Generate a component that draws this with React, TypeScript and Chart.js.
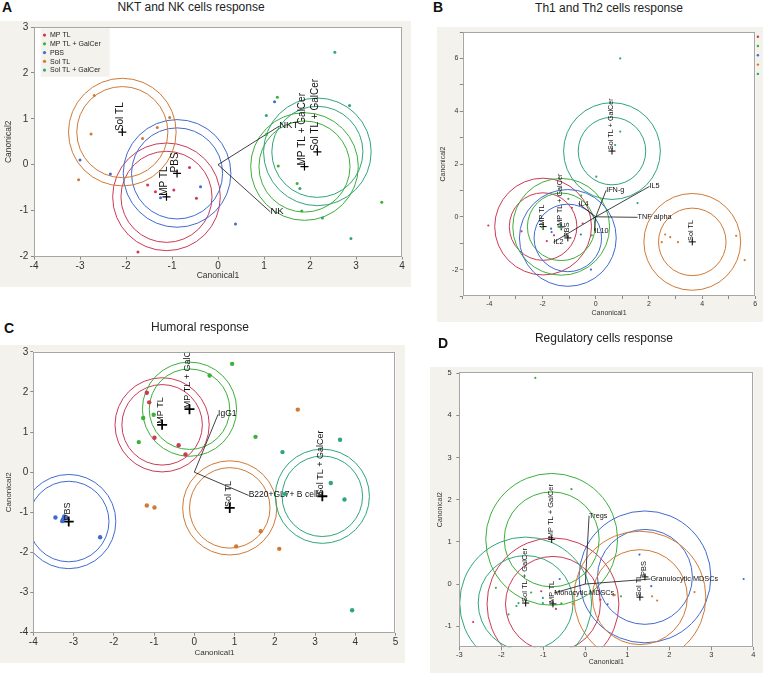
import React, { useEffect, useRef } from "react";
import { Chart, registerables } from "chart.js";
Chart.register(...registerables);

const FONT = '"Liberation Sans", Arial, Helvetica, sans-serif';
const BEIGE = "#f4f2ec";

const GROUPS = ["MP TL", "MP TL + GalCer", "PBS", "Sol TL", "Sol TL + GalCer"];
const COLORS = ["#cc3a55", "#3daf3a", "#3f6bd0", "#d07a35", "#2fa678"];

// ---------- Panel A: NKT and NK cells response ----------
const A_MP_TL = [[-0.62, -0.06], [-1.53, -0.44], [-1.36, -0.59], [-0.96, -0.55], [-0.47, -0.73], [-1.74, -1.9]];
const A_MP_TL_GAL = [[1.29, 1.47], [1.31, -0.03], [1.72, -0.41], [1.82, -1.01], [3.56, -0.82], [1.05, 0.66]];
const A_PBS = [[1.23, 1.37], [-3.0, 0.1], [-2.34, -0.2], [-0.38, -0.48], [-1.25, -0.72], [0.38, -1.29]];
const A_SOL_TL = [[-2.69, 1.51], [-1.05, 1.03], [-1.32, 0.81], [-2.76, 0.67], [-1.64, 0.57], [-3.03, -0.33]];
const A_SOL_TL_GAL = [[2.54, 2.45], [1.05, 1.07], [2.86, 1.29], [1.78, -0.52], [2.27, -1.16], [2.89, -1.61]];
const A_CENTERS = [[-1.12, -0.7], [1.88, -0.04], [-0.89, -0.19], [-2.08, 0.71], [2.16, 0.28]];
const A_RADII = [1.17, 0.99];
const A_RAY_NAMES = ["NKT", "NK"];
const A_RAY_ENDS = [[1.33, 0.84], [1.14, -1.03]];

// ---------- Panel B: Th1 and Th2 cells response ----------
const B_MP_TL = [[-4.04, -0.33], [-2.79, -0.55], [-0.9, 0.34], [-0.49, -0.26], [-1.57, -0.7], [-1.84, -0.92]];
const B_MP_TL_GAL = [[-1.03, 0.68], [-0.55, 0.8], [-0.15, -0.7], [-1.37, -0.39], [-1.28, -0.41], [-2.03, -0.39]];
const B_PBS = [[-0.56, -0.67], [-0.18, -2.0], [-1.68, -0.45], [-1.66, -0.58], [-1.3, -0.33]];
const B_SOL_TL = [[2.61, -0.67], [2.48, -0.96], [2.8, -0.77], [3.09, -0.96], [5.28, -0.72], [5.6, -1.64]];
const B_SOL_TL_GAL = [[0.92, 6.0], [0.92, 3.23], [0.73, 2.72], [0.02, 1.52], [1.57, 0.52]];
const B_CENTERS = [[-1.98, -0.37], [-1.3, -0.38], [-1.05, -0.8], [3.63, -0.95], [0.61, 2.49]];
const B_RADII = [1.82, 1.27];
const B_RAY_NAMES = ["IFN-g", "IL5", "TNF alpha", "IL4", "IL10", "IL2"];
const B_RAY_ENDS = [[0.39, 1.0], [2.02, 1.15], [1.57, -0.02], [-0.65, 0.5], [-0.05, -0.53], [-1.59, -0.96]];

// ---------- Panel C: Humoral response ----------
const C_MP_TL = [[-1.18, 1.98], [-1.12, 1.74], [-0.99, 0.86], [-0.39, 0.67], [-0.22, 0.44]];
const C_MP_TL_GAL = [[0.94, 2.7], [0.38, 2.41], [-1.27, 1.35], [-1.01, 1.43], [-1.38, 0.75], [1.52, 0.88]];
const C_PBS = [[-3.45, -1.13], [-3.26, -1.17], [-3.23, -1.1], [-3.28, -1.22], [-3.2, -1.15], [-2.34, -1.62]];
const C_SOL_TL = [[2.57, 1.56], [-1.18, -0.83], [-0.99, -0.88], [1.65, -1.47], [1.04, -1.85], [2.11, -1.91]];
const C_SOL_TL_GAL = [[2.19, 0.5], [3.62, 0.81], [3.39, -0.27], [3.73, -0.68], [3.92, -3.44], [2.25, -0.54]];
const C_CENTERS = [[-0.8, 1.18], [-0.12, 1.57], [-3.12, -1.23], [0.88, -0.89], [3.18, -0.6]];
const C_RADII = [1.17, 1.0];
const C_RAY_NAMES = ["IgG1", "B220+GL7+ B cells"];
const C_RAY_ENDS = [[0.59, 1.44], [1.35, -0.58]];

// ---------- Panel D: Regulatory cells response ----------
const D_MP_TL = [[-2.67, -0.9], [-1.05, -0.17], [-0.7, -0.59], [0.36, -0.37]];
const D_MP_TL_GAL = [[-1.19, 4.89], [-0.33, 2.25], [-2.13, -0.09], [-1.29, -0.2], [-0.57, -0.46], [0.85, -0.29]];
const D_PBS = [[-0.61, 0.12], [1.29, 0.7], [1.57, -0.05], [3.77, 0.12], [0.53, -0.48]];
const D_SOL_TL = [[-0.3, -0.47], [0.67, -0.27], [0.7, -0.26], [1.59, -0.29], [1.71, -0.39], [2.6, -0.19]];
const D_SOL_TL_GAL = [[-1.01, -0.33], [-1.01, -0.45], [-1.64, -0.52], [-1.59, -0.45], [-1.83, -0.72]];
const D_CENTERS = [[-0.77, -0.47], [-0.8, 1.06], [1.42, 0.17], [1.3, -0.31], [-1.42, -0.45]];
const D_RADII = [1.57, 1.13];
const D_RAY_NAMES = ["Tregs", "Granulocytic MDSCs", "Monocytic MDSCs"];
const D_RAY_ENDS = [[0.09, 1.62], [1.55, 0.12], [-0.74, -0.21]];

type Spec = any;

const SPEC_A: Spec = {
  l: 0, t: 21, w: 411, h: 266, cl: 34, ct: 27, cr: 402, cb: 256.5,
  xMin: -4, xMax: 4, yMin: -2, yMax: 3, xEvery: 1, yEvery: 1,
  tickSize: 10, xTickPad: 1, yTickPad: 2.7, axisTitleSize: 8.5, xTitlePad: 5.9, yTitlePad: 3.2,
  groupSize: 10, raySize: 9.5, pointR: 1.5, crossR: 4, crossW: 1.2, legend: "box",
  groups: [A_MP_TL, A_MP_TL_GAL, A_PBS, A_SOL_TL, A_SOL_TL_GAL],
  centers: A_CENTERS, radii: A_RADII, rayNames: A_RAY_NAMES, rayEnds: A_RAY_ENDS,
};
const SPEC_B: Spec = {
  l: 437, t: 27, w: 326, h: 295, cl: 462.8, ct: 31, cr: 755.3, cb: 296,
  xMin: -5, xMax: 6, yMin: -3, yMax: 7, xEvery: 2, yEvery: 2,
  tickSize: 7, xTickPad: 1, yTickPad: 1.5, axisTitleSize: 7, xTitlePad: 5.1, yTitlePad: 1.8,
  groupSize: 7.2, raySize: 7.3, pointR: 1.1, crossR: 3.5, crossW: 1, legend: "edge",
  groups: [B_MP_TL, B_MP_TL_GAL, B_PBS, B_SOL_TL, B_SOL_TL_GAL],
  centers: B_CENTERS, radii: B_RADII, rayNames: B_RAY_NAMES, rayEnds: B_RAY_ENDS,
};
const SPEC_C: Spec = {
  l: 0, t: 345, w: 405, h: 318, cl: 33.3, ct: 350.7, cr: 395.6, cb: 632.7,
  xMin: -4, xMax: 5, yMin: -4, yMax: 3, xEvery: 1, yEvery: 1,
  tickSize: 10, xTickPad: 1, yTickPad: 2, axisTitleSize: 8, xTitlePad: 5.5, yTitlePad: 3.5,
  groupSize: 9, raySize: 8.5, pointR: 2.2, crossR: 5, crossW: 1.8, legend: null,
  groups: [C_MP_TL, C_MP_TL_GAL, C_PBS, C_SOL_TL, C_SOL_TL_GAL],
  centers: C_CENTERS, radii: C_RADII, rayNames: C_RAY_NAMES, rayEnds: C_RAY_ENDS,
};
const SPEC_D: Spec = {
  l: 430, t: 367, w: 333, h: 306, cl: 459.3, ct: 371, cr: 753.3, cb: 647.3,
  xMin: -3, xMax: 4, yMin: -1.5, yMax: 5.03, xEvery: 1, yEvery: 1,
  tickSize: 7.5, xTickPad: 0.5, yTickPad: 4.6, axisTitleSize: 7, xTitlePad: 7.1, yTitlePad: 5.8,
  groupSize: 7.5, raySize: 7.3, pointR: 1.1, crossR: 3.5, crossW: 1, legend: null,
  groups: [D_MP_TL, D_MP_TL_GAL, D_PBS, D_SOL_TL, D_SOL_TL_GAL],
  centers: D_CENTERS, radii: D_RADII, rayNames: D_RAY_NAMES, rayEnds: D_RAY_ENDS,
};

const f = (n: number) => `${n}px ${FONT}`;
const isInt = (v: number) => Math.abs(v - Math.round(v)) < 1e-6;

function Panel({ s }: { s: Spec }) {
  const ref = useRef<HTMLCanvasElement>(null);
  useEffect(() => {
    const datasets: any[] = [];
    s.groups.forEach((g: number[][], i: number) => {
      datasets.push({
        label: GROUPS[i],
        data: g.map(([x, y]) => ({ x, y })),
        pointRadius: s.pointR,
        pointBackgroundColor: COLORS[i],
        pointBorderWidth: 0,
        showLine: false,
      });
    });
    s.rayEnds.forEach((e: number[], i: number) => {
      datasets.push({
        label: s.rayNames[i],
        data: [{ x: 0, y: 0 }, { x: e[0], y: e[1] }],
        showLine: true,
        borderColor: "#111",
        borderWidth: 0.8,
        pointRadius: 0,
      });
    });
    datasets.push({
      label: "centers",
      data: s.centers.map(([x, y]: number[]) => ({ x, y })),
      pointStyle: "cross",
      pointRadius: s.crossR,
      pointBorderColor: "#000",
      pointBorderWidth: s.crossW,
      showLine: false,
    });

    const deco = {
      id: "deco",
      beforeDraw(chart: any) {
        const { ctx, chartArea: a } = chart;
        ctx.save();
        ctx.fillStyle = "#ffffff";
        ctx.fillRect(a.left, a.top, a.right - a.left, a.bottom - a.top);
        ctx.restore();
      },
      beforeDatasetsDraw(chart: any) {
        const { ctx, chartArea: a, scales } = chart;
        const xs = scales.x, ys = scales.y;
        ctx.save();
        ctx.beginPath();
        ctx.rect(a.left, a.top, a.right - a.left, a.bottom - a.top);
        ctx.clip();
        s.centers.forEach((c: number[], i: number) => {
          const px = xs.getPixelForValue(c[0]);
          const py = ys.getPixelForValue(c[1]);
          s.radii.forEach((r: number) => {
            const pr = Math.abs(xs.getPixelForValue(c[0] + r) - px);
            ctx.beginPath();
            ctx.arc(px, py, pr, 0, Math.PI * 2);
            ctx.strokeStyle = COLORS[i];
            ctx.lineWidth = 1;
            ctx.stroke();
          });
        });
        ctx.restore();
      },
      afterDatasetsDraw(chart: any) {
        const { ctx, chartArea: a, scales } = chart;
        const xs = scales.x, ys = scales.y;
        ctx.save();
        ctx.beginPath();
        ctx.rect(a.left, a.top, a.right - a.left, a.bottom - a.top);
        ctx.clip();
        ctx.fillStyle = "#111";
        ctx.font = f(s.groupSize);
        s.centers.forEach((c: number[], i: number) => {
          const px = xs.getPixelForValue(c[0]);
          const py = ys.getPixelForValue(c[1]);
          ctx.save();
          ctx.translate(px + 1, py - 1);
          ctx.rotate(-Math.PI / 2);
          ctx.textAlign = "left";
          ctx.textBaseline = "alphabetic";
          ctx.fillText(GROUPS[i], 0, 0);
          ctx.restore();
        });
        ctx.font = f(s.raySize);
        ctx.textAlign = "left";
        ctx.textBaseline = "alphabetic";
        s.rayEnds.forEach((e: number[], i: number) => {
          const px = xs.getPixelForValue(e[0]);
          const py = ys.getPixelForValue(e[1]);
          ctx.fillText(s.rayNames[i], px, py + 2);
        });
        ctx.restore();

        ctx.save();
        ctx.strokeStyle = "#a6a6a6";
        ctx.lineWidth = 1;
        ctx.strokeRect(Math.round(a.left) + 0.5, Math.round(a.top) + 0.5, Math.round(a.right - a.left) - 1, Math.round(a.bottom - a.top) - 1);
        ctx.restore();

        if (s.legend === "box") {
          const bx = a.left + 6.7, by = a.top + 1.3;
          ctx.save();
          ctx.fillStyle = BEIGE;
          ctx.fillRect(bx, by, 69, 48.5);
          ctx.font = f(7);
          ctx.textBaseline = "middle";
          ctx.textAlign = "left";
          GROUPS.forEach((g, i) => {
            const ry = by + 6.8 + i * 8.75;
            ctx.beginPath();
            ctx.arc(bx + 3.8, ry, 1.6, 0, Math.PI * 2);
            ctx.fillStyle = COLORS[i];
            ctx.fill();
            ctx.fillStyle = "#222";
            ctx.fillText(g, bx + 9.3, ry + 0.3);
          });
          ctx.restore();
        } else if (s.legend === "edge") {
          const bx = a.right + 0.8, by = a.top + 4.7;
          ctx.save();
          ctx.fillStyle = BEIGE;
          ctx.fillRect(bx, a.top + 0.5, 80, 48);
          ctx.font = f(7);
          ctx.textBaseline = "middle";
          GROUPS.forEach((g, i) => {
            const ry = by + i * 9.3;
            ctx.beginPath();
            ctx.arc(bx + 1.8, ry, 1.2, 0, Math.PI * 2);
            ctx.fillStyle = COLORS[i];
            ctx.fill();
            ctx.fillStyle = "#222";
            ctx.fillText(g, bx + 7, ry);
          });
          ctx.restore();
        }
      },
    };

    const axis = (isX: boolean) => ({
      type: "linear",
      min: isX ? s.xMin : s.yMin,
      max: isX ? s.xMax : s.yMax,
      afterBuildTicks: (sc: any) => {
        sc.ticks = sc.ticks.filter((t: any) => isInt(t.value));
      },
      afterFit: (sc: any) => {
        if (isX) sc.height = s.t + s.h - s.cb;
        else sc.width = s.cl - s.l;
        sc.paddingLeft = 0;
        sc.paddingRight = 0;
        sc.paddingTop = 0;
        sc.paddingBottom = 0;
      },
      ticks: {
        stepSize: 1,
        includeBounds: false,
        autoSkip: false,
        maxRotation: 0,
        minRotation: 0,
        padding: isX ? s.xTickPad : s.yTickPad,
        color: "#333",
        font: { family: FONT, size: s.tickSize },
        callback: (v: any) => {
          const every = isX ? s.xEvery : s.yEvery;
          return Math.round(v) % every === 0 ? String(Math.round(v)) : "";
        },
      },
      grid: { drawOnChartArea: false, drawTicks: true, tickLength: 3, color: "#8a8a8a" },
      border: { display: false },
      title: {
        display: true,
        text: isX ? "Canonical1" : "Canonical2",
        color: "#333",
        font: { family: FONT, size: s.axisTitleSize },
        padding: isX ? { top: 0, bottom: s.xTitlePad } : { top: s.yTitlePad, bottom: 0 },
      },
    });

    const chart = new Chart(ref.current as HTMLCanvasElement, {
      type: "scatter",
      data: { datasets },
      options: {
        animation: false,
        responsive: false,
        events: [],
        layout: { padding: { left: 0, top: s.ct - s.t, right: s.l + s.w - s.cr, bottom: 0 } },
        plugins: { legend: { display: false }, tooltip: { enabled: false } },
        scales: { x: axis(true) as any, y: axis(false) as any },
      },
      plugins: [deco],
    });
    return () => chart.destroy();
  }, [s]);
  return (
    <canvas
      ref={ref}
      width={s.w}
      height={s.h}
      style={{ position: "absolute", left: s.l, top: s.t, width: s.w, height: s.h, background: BEIGE }}
    />
  );
}

const letterStyle: React.CSSProperties = {
  position: "absolute",
  fontFamily: FONT,
  fontWeight: 900,
  fontSize: 14,
  lineHeight: "14px",
  color: "#111",
};
const titleStyle: React.CSSProperties = {
  position: "absolute",
  fontFamily: FONT,
  fontSize: 12,
  lineHeight: "14px",
  textAlign: "center",
  color: "#222",
  whiteSpace: "nowrap",
};

export default function App() {
  return (
    <div style={{ position: "absolute", left: 0, top: 0, width: 763, height: 673, overflow: "hidden", background: "#fff" }}>
      <Panel s={SPEC_A} />
      <Panel s={SPEC_B} />
      <Panel s={SPEC_C} />
      <Panel s={SPEC_D} />
      <div style={{ ...letterStyle, left: 2, top: 0 }}>A</div>
      <div style={{ ...titleStyle, left: 91, top: 0, width: 200 }}>NKT and NK cells response</div>
      <div style={{ ...letterStyle, left: 433, top: 0 }}>B</div>
      <div style={{ ...titleStyle, left: 509, top: 1, width: 200 }}>Th1 and Th2 cells response</div>
      <div style={{ ...letterStyle, left: 4, top: 321 }}>C</div>
      <div style={{ ...titleStyle, left: 100, top: 320, width: 200 }}>Humoral response</div>
      <div style={{ ...letterStyle, left: 438, top: 336 }}>D</div>
      <div style={{ ...titleStyle, left: 504, top: 331, width: 200 }}>Regulatory cells response</div>
    </div>
  );
}
